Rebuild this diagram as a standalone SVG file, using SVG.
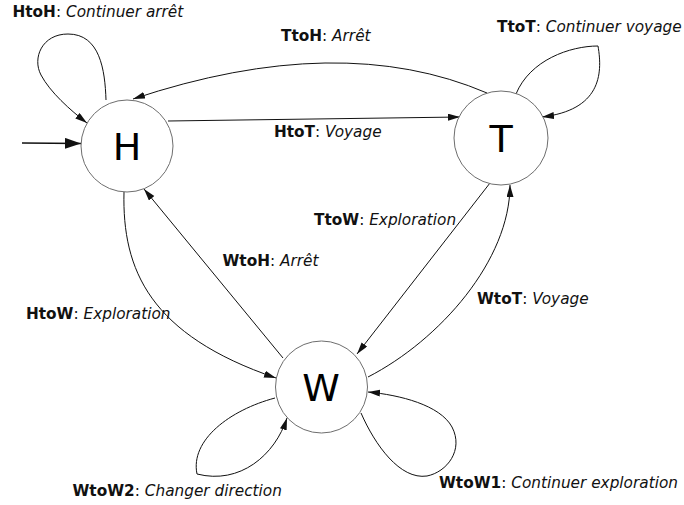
<svg xmlns="http://www.w3.org/2000/svg" width="684" height="505" viewBox="0 0 684 505">
  <style>
    .state { fill: #ffffff; stroke: #6e6e6e; stroke-width: 1; }
    .name { font-family: "DejaVu Sans", sans-serif; font-size: 38px; fill: #000; text-anchor: middle; }
    .edge { fill: none; stroke: #111; stroke-width: 1; marker-end: url(#arrow); }
    .lbl { font-family: "DejaVu Sans", sans-serif; font-size: 15.3px; fill: #111; }
    .lbl .k { font-weight: bold; }
    .lbl .v { font-style: oblique; }
  </style>
  <defs>
    <marker id="arrow" markerUnits="userSpaceOnUse" markerWidth="12" markerHeight="8" refX="12" refY="3.5" orient="auto">
      <path d="M0,0 L12,3.5 L0,7 z" fill="#111"/>
    </marker>
    <marker id="arrowBig" markerUnits="userSpaceOnUse" markerWidth="17" markerHeight="12" refX="16" refY="5.5" orient="auto">
      <path d="M0,0 L16,5.5 L0,11 z" fill="#111"/>
    </marker>
  </defs>

  <g id="connectors">
    <!-- initial state -->
    <path d="M22,143 L81,143.5" fill="none" stroke="#111" stroke-width="1.5" marker-end="url(#arrowBig)"/>
    <!-- HtoH -->
    <path class="edge" d="M106,100 C105,70 100,34 68,34 C42,34 32,58 41,75 C50,92 70,110 87,123"/>
    <!-- TtoH -->
    <path class="edge" d="M487,93 Q340,30 133,99"/>
    <!-- HtoT -->
    <path class="edge" d="M168,121 L460,117"/>
    <!-- TtoT -->
    <path class="edge" d="M516,94 C530,60 570,46 598,46 C603,75 600,110 542,117"/>
    <!-- TtoW -->
    <path class="edge" d="M490,183 L357,354"/>
    <!-- WtoT -->
    <path class="edge" d="M368,377 C440,340 510,260 510,185"/>
    <!-- WtoH -->
    <path class="edge" d="M283,358 L144,189"/>
    <!-- HtoW -->
    <path class="edge" d="M124,192 C122,270 150,335 276,378"/>
    <!-- WtoW2 -->
    <path class="edge" d="M275,398 C230,410 190,440 197,474 C240,485 275,455 287,418"/>
    <!-- WtoW1 -->
    <path class="edge" d="M361,413 C375,445 400,480 427,476 C447,472 464,450 452,427 C440,405 400,395 368,392"/>
  </g>

  <g id="H">
    <circle class="state" cx="127" cy="146" r="46"/>
    <text class="name" x="127" y="160">H</text>
  </g>
  <g id="T">
    <circle class="state" cx="501" cy="138" r="47"/>
    <text class="name" x="501" y="152">T</text>
  </g>
  <g id="W">
    <circle class="state" cx="321.5" cy="387" r="46"/>
    <text class="name" x="321" y="401">W</text>
  </g>

  <g id="labels">
    <text class="lbl" x="12.5" y="17"><tspan class="k">HtoH</tspan>: <tspan class="v">Continuer arrêt</tspan></text>
    <text class="lbl" x="281" y="41"><tspan class="k">TtoH</tspan>: <tspan class="v">Arrêt</tspan></text>
    <text class="lbl" x="497" y="32"><tspan class="k">TtoT</tspan>: <tspan class="v">Continuer voyage</tspan></text>
    <text class="lbl" x="274" y="137"><tspan class="k">HtoT</tspan>: <tspan class="v">Voyage</tspan></text>
    <text class="lbl" x="314" y="225"><tspan class="k">TtoW</tspan>: <tspan class="v">Exploration</tspan></text>
    <text class="lbl" x="222.5" y="266"><tspan class="k">WtoH</tspan>: <tspan class="v">Arrêt</tspan></text>
    <text class="lbl" x="26" y="319"><tspan class="k">HtoW</tspan>: <tspan class="v">Exploration</tspan></text>
    <text class="lbl" x="477" y="304"><tspan class="k">WtoT</tspan>: <tspan class="v">Voyage</tspan></text>
    <text class="lbl" x="72.5" y="496"><tspan class="k">WtoW2</tspan>: <tspan class="v">Changer direction</tspan></text>
    <text class="lbl" x="439" y="488"><tspan class="k">WtoW1</tspan>: <tspan class="v">Continuer exploration</tspan></text>
  </g>
</svg>
